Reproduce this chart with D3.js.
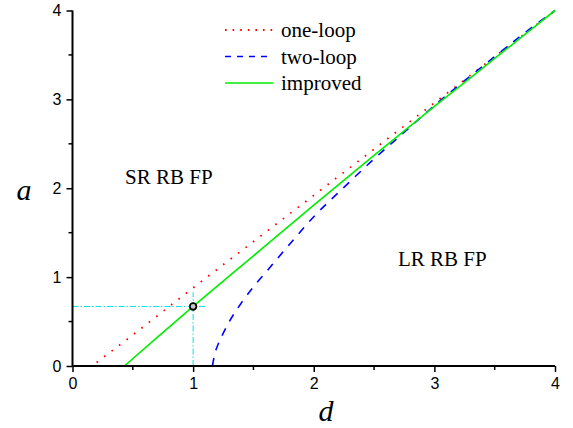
<!DOCTYPE html>
<html>
<head>
<meta charset="utf-8">
<script src="https://cdn.jsdelivr.net/npm/d3@7"></script>
<style>
    body { margin: 0; background: #fff; }
    svg { display: block; }
</style>
</head>
<body>
<svg id="chart" width="573" height="428"></svg>
<script>
// curve data
var dOneLoop = [0.2, 0.5, 1, 1.5, 2, 2.5, 3, 3.5, 4];
var aOneLoop = [0.04, 0.35, 0.88, 1.40, 1.92, 2.44, 2.96, 3.48, 4.0];

var dTwoLoop = [1.16, 1.18, 1.2, 1.25, 1.3, 1.4, 1.5, 1.6, 1.8, 2.0, 2.25, 2.5, 2.75, 3.0, 3.25, 3.5, 3.75, 4.0];
var aTwoLoop = [0, 0.14, 0.22, 0.37, 0.50, 0.71, 0.89, 1.05, 1.37, 1.68, 2.01, 2.33, 2.63, 2.93, 3.21, 3.48, 3.75, 4.0];

var dImproved = [0.43, 0.7, 1, 1.5, 2, 2.5, 3, 3.5, 4];
var aImproved = [0, 0.32, 0.67, 1.24, 1.81, 2.37, 2.92, 3.46, 4.0];

// marked point and its guide lines
var markPoint = [1, 0.67];
var guideEnd = [1.1, 0.83];

var xTicks = [0, 1, 2, 3, 4];
var yTicks = [0, 1, 2, 3, 4];
var xMinor = [0.5, 1.5, 2.5, 3.5];
var yMinor = [0.5, 1.5, 2.5, 3.5];

var legendNames = ['one-loop', 'two-loop', 'improved'];

var SERIF = 'Liberation Serif';
var SANS = 'Liberation Sans';

var margin = { top: 10.5, right: 18, bottom: 62, left: 72.5 };
var width = 573;
var height = 428;

var svg = d3.select('#chart');

var x = d3.scaleLinear()
    .domain([0, 4])
    .range([margin.left, width - margin.right]);

var y = d3.scaleLinear()
    .domain([0, 4])
    .range([height - margin.bottom, margin.top]);

function toPoints(ds, as) {
    return ds.map(function (d, i) {
        return [d, as[i]];
    });
}

var line = d3.line()
    .x(function (p) { return x(p[0]); })
    .y(function (p) { return y(p[1]); })
    .curve(d3.curveMonotoneX);

var styles = [
    { color: '#ff0000', dash: '1.6,7.8', width: 1.8 },
    { color: '#0000ff', dash: '8,8', width: 1.6 },
    { color: '#00ee00', dash: null, width: 1.6 }
];

// guide lines (dash-dot cyan)
svg.append('line')
    .attr('x1', x(0)).attr('y1', y(markPoint[1]))
    .attr('x2', x(guideEnd[0])).attr('y2', y(markPoint[1]))
    .attr('stroke', '#00e5ee')
    .attr('stroke-width', 1)
    .attr('stroke-dasharray', '6,2,1.5,2');

svg.append('line')
    .attr('x1', x(markPoint[0])).attr('y1', y(0))
    .attr('x2', x(markPoint[0])).attr('y2', y(guideEnd[1]))
    .attr('stroke', '#00e5ee')
    .attr('stroke-width', 1)
    .attr('stroke-dasharray', '6,2,1.5,2');

var series = [
    toPoints(dOneLoop, aOneLoop),
    toPoints(dTwoLoop, aTwoLoop),
    toPoints(dImproved, aImproved)
];

series.forEach(function (pts, i) {
    svg.append('path')
        .datum(pts)
        .attr('fill', 'none')
        .attr('stroke', styles[i].color)
        .attr('stroke-width', styles[i].width)
        .attr('stroke-dasharray', styles[i].dash)
        .attr('d', line);
});

svg.append('circle')
    .attr('cx', x(markPoint[0]))
    .attr('cy', y(markPoint[1]))
    .attr('r', 3.3)
    .attr('fill', '#c8c8c8')
    .attr('stroke', '#000')
    .attr('stroke-width', 1.8);

// axes
var xAxis = d3.axisBottom(x)
    .tickValues(xTicks)
    .tickSize(6)
    .tickPadding(6)
    .tickFormat(d3.format('d'));

var yAxis = d3.axisLeft(y)
    .tickValues(yTicks)
    .tickSize(6)
    .tickPadding(5)
    .tickFormat(d3.format('d'));

var gx = svg.append('g')
    .attr('transform', 'translate(0,' + y(0) + ')')
    .call(xAxis);

gx.selectAll('.minor')
    .data(xMinor)
    .enter()
    .append('line')
    .attr('x1', function (d) { return x(d); })
    .attr('x2', function (d) { return x(d); })
    .attr('y1', 0)
    .attr('y2', 4)
    .attr('stroke', '#000')
    .attr('stroke-width', 1.5);

var gy = svg.append('g')
    .attr('transform', 'translate(' + x(0) + ',0)')
    .call(yAxis);

gy.selectAll('.minor')
    .data(yMinor)
    .enter()
    .append('line')
    .attr('x1', 0)
    .attr('x2', -4)
    .attr('y1', function (d) { return y(d); })
    .attr('y2', function (d) { return y(d); })
    .attr('stroke', '#000')
    .attr('stroke-width', 1.5);

[gx, gy].forEach(function (g) {
    g.attr('font-family', SANS).attr('font-size', 16);
    g.select('.domain')
        .attr('stroke-width', 2)
        .attr('d', g === gx
            ? 'M' + x(0) + ',0H' + x(4)
            : 'M0,' + y(0) + 'V' + y(4));
    g.selectAll('.tick line').attr('stroke-width', 1.5);
    g.selectAll('.tick text')
        .attr('fill', '#000');
});

function serifText(px, py, size, str) {
    return svg.append('text')
        .attr('x', px)
        .attr('y', py)
        .attr('font-family', SERIF)
        .attr('font-size', size)
        .text(str);
}

// axis titles
serifText(326, 421, 30, 'd')
    .attr('text-anchor', 'middle')
    .attr('font-style', 'italic');

serifText(24, 200, 30, 'a')
    .attr('text-anchor', 'middle')
    .attr('font-style', 'italic');

// region labels
serifText(125, 184, 21, 'SR RB FP');
serifText(398, 266, 21, 'LR RB FP');

// legend
var legend = svg.append('g')
    .attr('transform', 'translate(225,30)');

var rows = legend.selectAll('g')
    .data(legendNames)
    .enter()
    .append('g')
    .attr('transform', function (d, i) {
        return 'translate(0,' + (i * 26.5) + ')';
    });

rows.append('line')
    .attr('x1', 0)
    .attr('x2', 48)
    .attr('y1', 0)
    .attr('y2', 0)
    .attr('stroke', function (d, i) { return styles[i].color; })
    .attr('stroke-width', function (d, i) { return styles[i].width; })
    .attr('stroke-dasharray', function (d, i) {
        return i === 0 ? '1.6,6' : (i === 1 ? '6,6' : null);
    });

rows.append('text')
    .attr('x', 56)
    .attr('y', 7)
    .attr('font-family', SERIF)
    .attr('font-size', 21)
    .text(function (d) { return d; });
</script>
</body>
</html>
